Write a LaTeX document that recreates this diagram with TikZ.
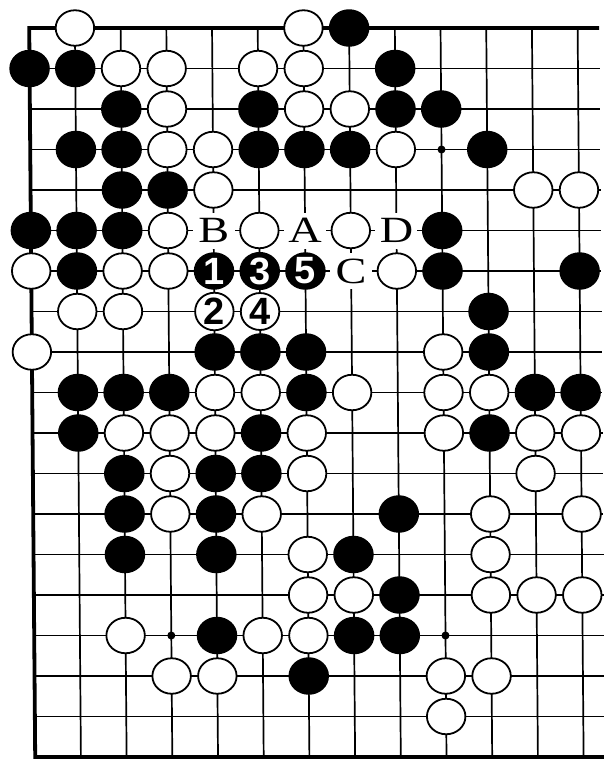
\documentclass[tikz,border=0pt]{standalone}
\usepackage{fontspec}
\setmainfont{Liberation Serif}
\newfontfamily\numfont{Liberation Sans}
\usetikzlibrary{shapes.geometric}
\tikzset{
  gridline/.style={line width=1.7pt},
  edgeline/.style={line width=3.8pt},
  wst/.style={ellipse, draw, line width=1.8pt, fill=white, minimum width=38.5pt, minimum height=35.5pt, inner sep=0pt},
  bst/.style={ellipse, fill=black, minimum width=40.5pt, minimum height=37.5pt, inner sep=0pt},
  hoshi/.style={circle, fill=black, minimum size=8pt, inner sep=0pt},
  lbl/.style={fill=white, inner sep=0pt, minimum width=42pt, minimum height=36pt, font=\fontsize{37}{37}\selectfont},
  bnum/.style={text=white, font=\numfont\bfseries\fontsize{38}{38}\selectfont},
  wnum/.style={text=black, font=\numfont\bfseries\fontsize{38}{38}\selectfont}
}
\begin{document}
\begin{tikzpicture}[x=1pt,y=-1pt]
\useasboundingbox (0,0) rectangle (603,761);
\begin{scope}[xslant=-0.0082]
% grid
\foreach \i in {1,...,12} \draw[gridline] (29+45.7*\i,28) -- (29+45.7*\i,757);
\foreach \j in {1,...,17} \draw[gridline] (29,28+40.5*\j) -- (599,28+40.5*\j);
\draw[edgeline] (599,28) -- (29,28) -- (29,757) -- (599,757);
% hoshi
\foreach \c/\r in {9/3,3/15,9/15}
  \node[hoshi] (h\c-\r) at (29+45.7*\c,28+40.5*\r) {};
% black stones
\foreach \c/\r in {7/0, 0/1,1/1,8/1, 2/2,5/2,8/2,9/2, 1/3,2/3,5/3,6/3,7/3,10/3,
  2/4,3/4, 0/5,1/5,2/5,9/5, 1/6,9/6,12/6, 10/7, 4/8,5/8,6/8,10/8,
  1/9,2/9,3/9,6/9,11/9,12/9, 1/10,5/10,10/10, 2/11,4/11,5/11,
  2/12,4/12,8/12, 2/13,4/13,7/13, 8/14, 4/15,7/15,8/15, 6/16}
  \node[bst] (b\c-\r) at (29+45.7*\c,28+40.5*\r) {};
% white stones
\foreach \c/\r in {1/0,6/0, 2/1,3/1,5/1,6/1, 3/2,6/2,7/2, 3/3,4/3,8/3,
  4/4,11/4,12/4, 3/5,5/5,7/5, 0/6,2/6,3/6,8/6, 1/7,2/7, 0/8,9/8,
  4/9,5/9,7/9,9/9,10/9, 2/10,3/10,4/10,6/10,9/10,11/10,12/10,
  3/11,6/11,11/11, 3/12,5/12,10/12,12/12, 6/13,10/13,
  6/14,7/14,10/14,11/14,12/14, 2/15,5/15,6/15, 3/16,4/16,9/16,10/16, 9/17}
  \node[wst] (w\c-\r) at (29+45.7*\c,28+40.5*\r) {};
% numbered stones
\node[bst,bnum] (m1) at (29+45.7*4,28+40.5*6) {1};
\node[bst,bnum] (m3) at (29+45.7*5,28+40.5*6) {3};
\node[bst,bnum] (m5) at (29+45.7*6,28+40.5*6) {5};
\node[wst,wnum] (m2) at (29+45.7*4,28+40.5*7) {2};
\node[wst,wnum] (m4) at (29+45.7*5,28+40.5*7) {4};
% letters
\node[lbl] (lB) at (29+45.7*4,28+40.5*5) {\scalebox{1.25}[1]{B}};
\node[lbl] (lA) at (29+45.7*6,28+40.5*5) {\scalebox{1.25}[1]{A}};
\node[lbl] (lD) at (29+45.7*8,28+40.5*5) {\scalebox{1.25}[1]{D}};
\node[lbl] (lC) at (29+45.7*7,28+40.5*6) {\scalebox{1.25}[1]{C}};
\end{scope}
\end{tikzpicture}
\end{document}
